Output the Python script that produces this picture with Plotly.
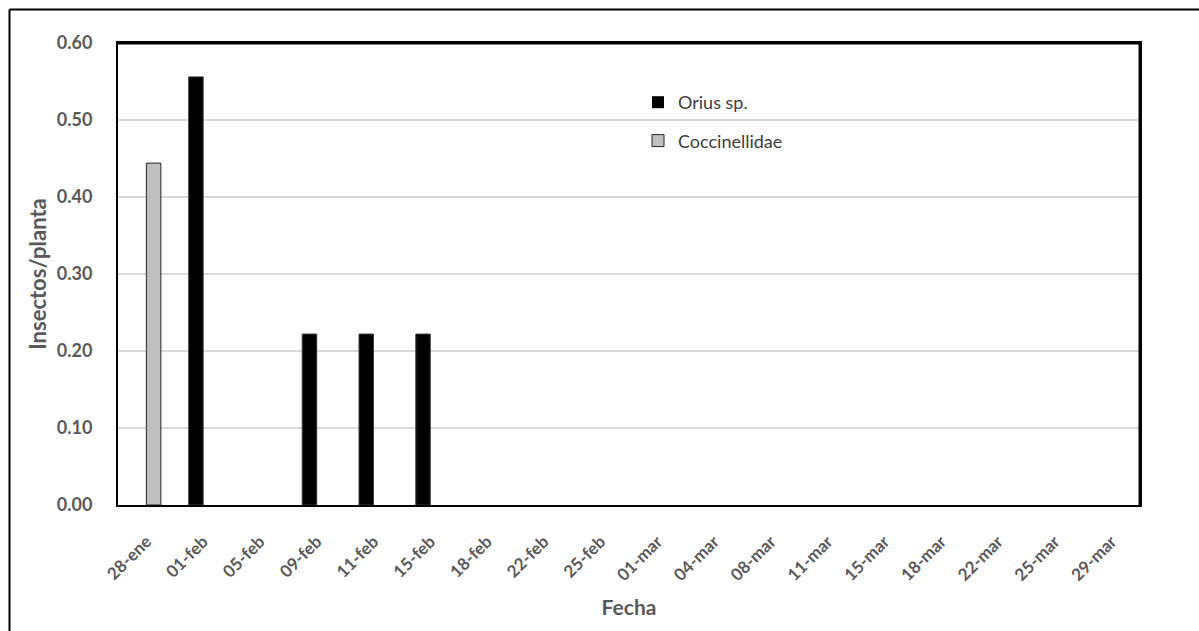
import plotly.graph_objects as go

# Sampling dates
fechas = ["28-ene", "01-feb", "05-feb", "09-feb", "11-feb", "15-feb", "18-feb",
          "22-feb", "25-feb", "01-mar", "04-mar", "08-mar", "11-mar", "15-mar",
          "18-mar", "22-mar", "25-mar", "29-mar"]

# Insects per plant
orius = [0.0, 0.556, 0.0, 0.222, 0.222, 0.222, 0.0, 0.0, 0.0,
         0.0, 0.0, 0.0, 0.0, 0.0, 0.0, 0.0, 0.0, 0.0]
coccinellidae = [0.444, 0.0, 0.0, 0.0, 0.0, 0.0, 0.0, 0.0, 0.0,
                 0.0, 0.0, 0.0, 0.0, 0.0, 0.0, 0.0, 0.0, 0.0]

y_ticks = [0.0, 0.1, 0.2, 0.3, 0.4, 0.5, 0.6]

FONT = "Lato, 'Open Sans', sans-serif"
W, H = 1199, 631
L, R, T, B = 118, 59, 43, 126
pw, ph = W - L - R, H - T - B


def outline_widths(values):
    # no outline on empty bars so nothing sits on the baseline
    return [1 if v > 0 else 0 for v in values]


fig = go.Figure()
fig.add_trace(go.Bar(
    x=fechas, y=orius, name="Orius sp.",
    marker=dict(color="#000000",
                line=dict(color="#3a3a3a", width=outline_widths(orius))),
    legendgroup="a",
))
fig.add_trace(go.Bar(
    x=fechas, y=coccinellidae, name="Coccinellidae",
    marker=dict(color="#bfbfbf",
                line=dict(color="#262626", width=outline_widths(coccinellidae))),
    legendgroup="b",
))

# outer frame lines (left and top edges of the chart box)
fx = (9.5 - L) / pw
fy = (H - B - 9.5) / ph
shapes = [
    dict(type="line", xref="paper", yref="paper", x0=fx, y0=fy, x1=1.2, y1=fy,
         line=dict(color="#000000", width=2)),
    dict(type="line", xref="paper", yref="paper", x0=fx, y0=fy, x1=fx, y1=-0.5,
         line=dict(color="#000000", width=2)),
    # heavier top and right plot borders
    dict(type="line", xref="paper", yref="paper", x0=0, y0=1, x1=1, y1=1,
         line=dict(color="#000000", width=3)),
    dict(type="line", xref="paper", yref="paper", x0=1, y0=0, x1=1, y1=1,
         line=dict(color="#000000", width=3)),
]

fig.update_layout(
    width=W, height=H,
    margin=dict(l=L, r=R, t=T, b=B, autoexpand=False),
    paper_bgcolor="white", plot_bgcolor="white",
    barmode="group", bargap=0.49, bargroupgap=0,
    font=dict(family=FONT, color="#595959"),
    showlegend=True,
    legend=dict(
        x=(638 - L) / pw, y=(H - B - 84) / ph, xanchor="left", yanchor="top",
        bgcolor="rgba(0,0,0,0)", font=dict(size=18, color="#404040", family=FONT),
        traceorder="grouped", tracegroupgap=12,
    ),
    shapes=shapes,
)

fig.update_xaxes(
    type="category", tickangle=-45,
    tickfont=dict(size=17, color="#595959", family=FONT, weight="bold"),
    showline=True, linecolor="#000000", linewidth=2, mirror=True,
    showgrid=False, ticks="", ticklabelstandoff=18,
    title=dict(text="<b>Fecha</b>", font=dict(size=21, color="#595959", family=FONT), standoff=16),
)
fig.update_yaxes(
    range=[0, 0.6], tickvals=y_ticks, tickformat=".2f",
    tickfont=dict(size=18, color="#595959", family=FONT, weight="bold"),
    showline=True, linecolor="#000000", linewidth=2, mirror=True,
    showgrid=True, gridcolor="#d9d9d9", gridwidth=1.5, zeroline=False,
    ticks="", ticklabelstandoff=20,
    title=dict(text="<b>Insectos/planta</b>", font=dict(size=22, color="#595959", family=FONT), standoff=4),
)

fig.write_html("out.html")
